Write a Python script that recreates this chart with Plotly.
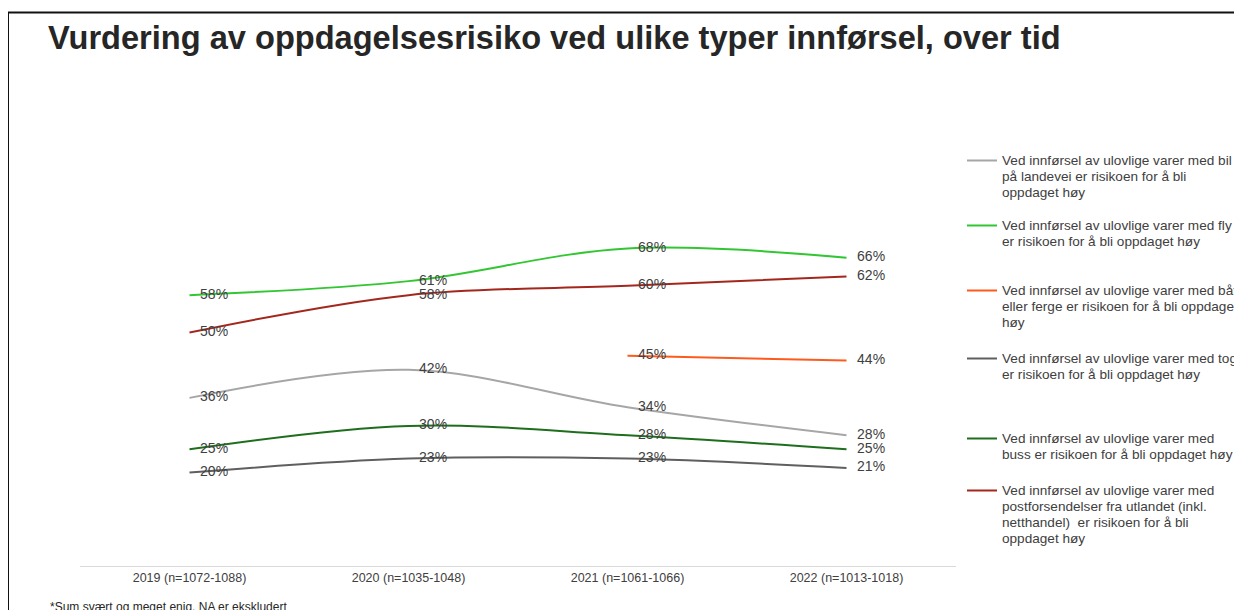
import plotly.graph_objects as go

years = ["2019 (n=1072-1088)", "2020 (n=1035-1048)", "2021 (n=1061-1066)", "2022 (n=1013-1018)"]

bil = [36, 42, 34, 28]
fly = [58, 61, 68, 66]
baat = [None, None, 45, 44]
tog = [20, 23, 23, 21]
buss = [25, 30, 28, 25]
post = [50, 58, 60, 62]

names = [
    ["Ved innførsel av ulovlige varer med bil", "på landevei er risikoen for å bli", "oppdaget høy"],
    ["Ved innførsel av ulovlige varer med fly", "er risikoen for å bli oppdaget høy"],
    ["Ved innførsel av ulovlige varer med båt", "eller ferge er risikoen for å bli oppdaget", "høy"],
    ["Ved innførsel av ulovlige varer med tog", "er risikoen for å bli oppdaget høy"],
    ["Ved innførsel av ulovlige varer med", "buss er risikoen for å bli oppdaget høy"],
    ["Ved innførsel av ulovlige varer med", "postforsendelser fra utlandet (inkl.", "netthandel)  er risikoen for å bli", "oppdaget høy"],
]
series = [bil, fly, baat, tog, buss, post]
colors = ["#A6A6A6", "#33C633", "#FF5A1E", "#5F5F5F", "#1E6E1E", "#A3271D"]

# page body has an 8px margin, so the figure is drawn 8px in from the corner
OFF = 8
W, H = 1242 - OFF, 610 - OFF
# plot area in page pixels: x 80..956, y 99..566 (0..100 %)
L, R, T, B = 80 - OFF, 956 - OFF, 99 - OFF, 566 - OFF


def py(p):
    return (B - (p - OFF)) / (B - T)


def px(p):
    return ((p - OFF) - L) / (R - L)


legend_tops = [146, 211, 276, 344, 424, 476]
pad = "\u00a0\u00a0\u2009"


def legend_name(lines):
    # bigger glyphs, but line spacing from the smaller base font (like Excel)
    return "<br>".join(f"<span style='font-size:13.6px'>{t}</span>" for t in lines)


fig = go.Figure()
for i, (vals, name, col) in enumerate(zip(series, names, colors)):
    leg = "legend" if i == 0 else f"legend{i + 1}"
    fig.add_trace(go.Scatter(
        x=years, y=vals, name=legend_name(name),
        mode="lines+text",
        line=dict(color=col, width=2, shape="spline"),
        text=[f"{pad}{v}%" if v is not None else "" for v in vals],
        textposition="middle right",
        textfont=dict(family="Arial", size=14, color="#404040"),
        legend=leg,
        connectgaps=False,
    ))

legends = {}
for i, top in enumerate(legend_tops):
    key = "legend" if i == 0 else f"legend{i + 1}"
    legends[key] = dict(
        x=px(962), xanchor="left", y=py(top), yanchor="top",
        font=dict(family="Arial", size=12.3, color="#404040"),
        bgcolor="rgba(0,0,0,0)", valign="top",
        itemwidth=30,
    )

fig.update_layout(
    width=W, height=H,
    margin=dict(l=L, r=W - R, t=T, b=H - B, autoexpand=False),
    paper_bgcolor="white", plot_bgcolor="white",
    showlegend=True,
    title=dict(
        text="<b>Vurdering av oppdagelsesrisiko ved ulike typer innførsel, over tid</b>",
        x=(48 - OFF) / W, xanchor="left", y=1 - (38 - OFF) / H, yanchor="middle",
        font=dict(family="Arial", size=32.6, color="#262626"),
    ),
    **legends,
)
fig.update_xaxes(
    type="category", range=[-0.5, 3.5],
    showline=True, linecolor="#D9D9D9", linewidth=1,
    showgrid=False, ticks="",
    tickfont=dict(family="Arial", size=12.5, color="#404040"),
)
fig.update_yaxes(range=[0, 100], visible=False, showgrid=False)

# frame around the slide
fig.add_shape(type="line", xref="paper", yref="paper",
              x0=px(7), x1=px(1250), y0=py(12.5), y1=py(12.5),
              line=dict(color="#111111", width=2))
fig.add_shape(type="line", xref="paper", yref="paper",
              x0=px(8), x1=px(8), y0=py(12.5), y1=py(620),
              line=dict(color="#111111", width=2))

fig.add_annotation(
    text="*Sum svært og meget enig. NA er ekskludert",
    xref="paper", yref="paper", x=px(48), y=py(598),
    xanchor="left", yanchor="top", showarrow=False,
    font=dict(family="Arial", size=12, color="#262626"),
)

fig.write_html("out.html")
